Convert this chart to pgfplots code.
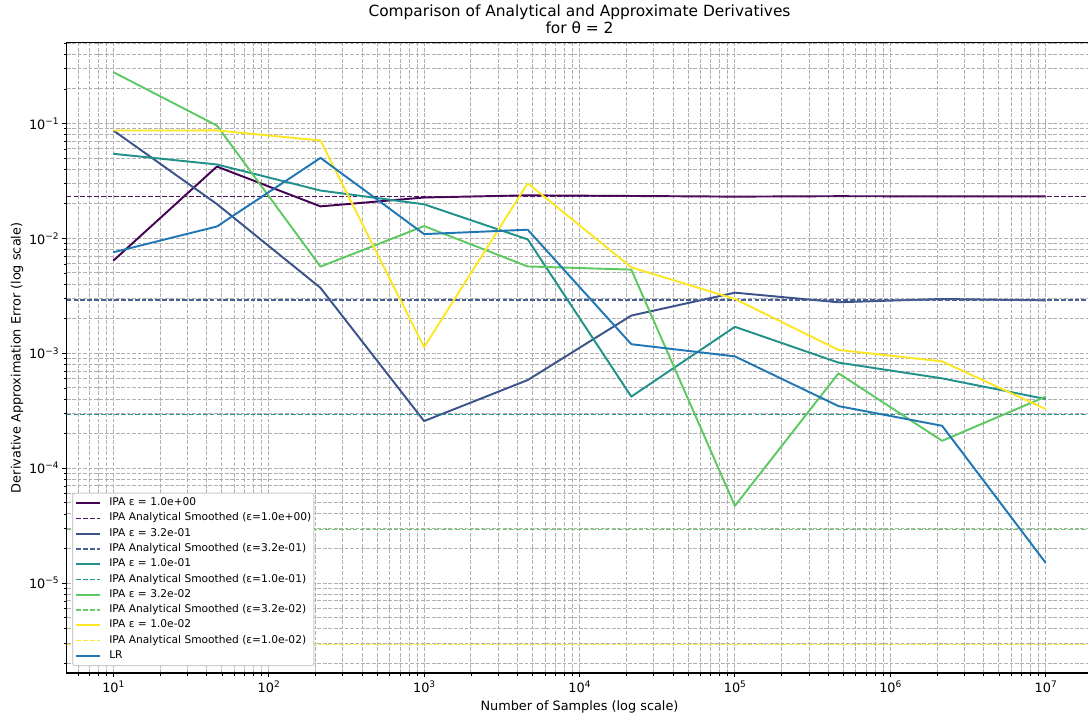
\documentclass[border=0pt]{standalone}
\usepackage{fontspec}
\setmainfont{DejaVu Sans}
\usepackage{pgfplots}
\pgfplotsset{compat=1.18}
\definecolor{viridisA}{RGB}{68,1,84}
\definecolor{viridisB}{RGB}{59,82,139}
\definecolor{viridisC}{RGB}{33,145,140}
\definecolor{viridisD}{RGB}{94,201,98}
\definecolor{viridisE}{RGB}{253,231,37}
\definecolor{tabblue}{RGB}{31,119,180}
\definecolor{smoothA}{RGB}{84,22,98}
\definecolor{smoothB}{RGB}{72,96,148}
\definecolor{smoothC}{RGB}{40,150,145}
\definecolor{smoothD}{RGB}{104,204,108}
\definecolor{smoothE}{RGB}{253,232,55}
\definecolor{gridgray}{RGB}{176,176,176}
\definecolor{legendframe}{RGB}{204,204,204}
\newcommand\sups[1]{\raisebox{4.8pt}{\fontsize{9}{10}\selectfont #1}}
\begin{document}
\begin{tikzpicture}
\begin{axis}[
  xmode=log, ymode=log,
  scale only axis, width=1025.6pt, height=630.3pt,
  xmin=5.012, xmax=1.995e7, ymin=1.65e-6, ymax=0.505,
  xtick={10,100,1000,10000,100000,1000000,10000000},
  xticklabels={10\sups{1},10\sups{2},10\sups{3},10\sups{4},10\sups{5},10\sups{6},10\sups{7}},
  minor xtick={6,7,8,9,20,30,40,50,60,70,80,90,200,300,400,500,600,700,800,900,2000,3000,4000,5000,6000,7000,8000,9000,20000,30000,40000,50000,60000,70000,80000,90000,200000,300000,400000,500000,600000,700000,800000,900000,2000000,3000000,4000000,5000000,6000000,7000000,8000000,9000000},
  ytick={1e-5,1e-4,1e-3,1e-2,1e-1},
  yticklabels={10\sups{−5},10\sups{−4},10\sups{−3},10\sups{−2},10\sups{−1}},
  minor ytick={2e-6,3e-6,4e-6,5e-6,6e-6,7e-6,8e-6,9e-6,2e-5,3e-5,4e-5,5e-5,6e-5,7e-5,8e-5,9e-5,2e-4,3e-4,4e-4,5e-4,6e-4,7e-4,8e-4,9e-4,2e-3,3e-3,4e-3,5e-3,6e-3,7e-3,8e-3,9e-3,2e-2,3e-2,4e-2,5e-2,6e-2,7e-2,8e-2,9e-2,0.2,0.3,0.4,0.5},
  tick align=outside, xtick pos=bottom, ytick pos=left,
  major tick length=4.5pt, minor tick length=2.6pt,
  every tick/.style={black, line width=1.03pt},
  every minor tick/.style={black, line width=0.77pt},
  grid=both,
  major grid style={gridgray, line width=1pt, dash pattern=on 3.8pt off 1.65pt},
  minor grid style={gridgray, line width=1pt, dash pattern=on 3.8pt off 1.65pt},
  axis line style={line width=1.03pt},
  tick label style={font=\fontsize{12.85}{15}\selectfont},
  xlabel={Number of Samples (log scale)},
  ylabel={Derivative Approximation Error (log scale)},
  label style={font=\fontsize{12.85}{15}\selectfont},
  xlabel style={at={(axis description cs:0.5,0)}, anchor=base, yshift=-37.7pt},
  ylabel style={at={(axis description cs:0,0.5)}, anchor=base, yshift=46pt},
  title={Comparison of Analytical and Approximate Derivatives\\for θ = 2},
  title style={font=\fontsize{15.4}{17.5}\selectfont, align=center, anchor=south, inner sep=0pt, at={(axis description cs:0.5,1)}, yshift=2.5pt},
  legend cell align=left,
  legend image code/.code={\draw[#1] (0pt,0pt) -- (24pt,0pt);},
  legend style={name=leg, at={(axis description cs:0.0058,0.0116)}, anchor=south west,
    draw=none, fill=white,
    font=\fontsize{10.65}{12}\selectfont, inner xsep=2.5pt, inner ysep=3.5pt,
    nodes={inner sep=0pt, text height=8.8pt, text depth=3.6pt},
    row sep=2.87pt, column sep=8pt},
  every axis plot/.append style={line join=round},
]
\addplot[draw=viridisA, line width=1.93pt] coordinates {(10,0.0064) (46.416,0.0422) (215.443,0.0190) (1000,0.0227) (4641.59,0.0237) (21544.3,0.0234) (100000,0.0231) (464159,0.0233) (2154435,0.0232) (10000000,0.0232)};
\addlegendentry{IPA ε = 1.0e+00}
\addplot[draw=smoothA, line width=1.3pt, dash pattern=on 4.75pt off 2.06pt] coordinates {(5.012,0.0231) (1.995e7,0.0231)};
\addlegendentry{IPA Analytical Smoothed (ε=1.0e+00)}
\addplot[draw=viridisB, line width=1.93pt] coordinates {(10,0.087) (46.416,0.0199) (215.443,0.00371) (1000,0.000257) (4641.59,0.000585) (21544.3,0.00213) (100000,0.00337) (464159,0.00278) (2154435,0.00297) (10000000,0.00289)};
\addlegendentry{IPA ε = 3.2e-01}
\addplot[draw=smoothB, line width=1.3pt, dash pattern=on 4.75pt off 2.06pt] coordinates {(5.012,0.00291) (1.995e7,0.00291)};
\addlegendentry{IPA Analytical Smoothed (ε=3.2e-01)}
\addplot[draw=viridisC, line width=1.93pt] coordinates {(10,0.0545) (46.416,0.044) (215.443,0.0261) (1000,0.0198) (4641.59,0.0098) (21544.3,0.00042) (100000,0.0017) (464159,0.00083) (2154435,0.000605) (10000000,0.0004)};
\addlegendentry{IPA ε = 1.0e-01}
\addplot[draw=smoothC, line width=1.3pt, dash pattern=on 4.75pt off 2.06pt] coordinates {(5.012,0.000295) (1.995e7,0.000295)};
\addlegendentry{IPA Analytical Smoothed (ε=1.0e-01)}
\addplot[draw=viridisD, line width=1.93pt] coordinates {(10,0.28) (46.416,0.096) (215.443,0.00568) (1000,0.0128) (4641.59,0.0057) (21544.3,0.00535) (100000,0.000047) (464159,0.00067) (2154435,0.000173) (10000000,0.00042)};
\addlegendentry{IPA ε = 3.2e-02}
\addplot[draw=smoothD, line width=1.3pt, dash pattern=on 4.75pt off 2.06pt] coordinates {(5.012,0.0000292) (1.995e7,0.0000292)};
\addlegendentry{IPA Analytical Smoothed (ε=3.2e-02)}
\addplot[draw=viridisE, line width=1.93pt] coordinates {(10,0.0869) (46.416,0.087) (215.443,0.0711) (1000,0.00113) (4641.59,0.0302) (21544.3,0.0056) (100000,0.00297) (464159,0.00107) (2154435,0.00085) (10000000,0.000327)};
\addlegendentry{IPA ε = 1.0e-02}
\addplot[draw=smoothE, line width=1.3pt, dash pattern=on 4.75pt off 2.06pt] coordinates {(5.012,0.00000291) (1.995e7,0.00000291)};
\addlegendentry{IPA Analytical Smoothed (ε=1.0e-02)}
\addplot[draw=tabblue, line width=1.93pt] coordinates {(10,0.00757) (46.416,0.0127) (215.443,0.0502) (1000,0.0109) (4641.59,0.0119) (21544.3,0.0012) (100000,0.00094) (464159,0.000347) (2154435,0.000234) (10000000,0.000015)};
\addlegendentry{LR}
\coordinate (SW) at (rel axis cs:0,0);
\end{axis}
\draw[legendframe, line width=1pt, rounded corners=2.5pt] (leg.south west) rectangle (leg.north east);
\pgfresetboundingbox
\path[use as bounding box] ([shift={(-66.7pt,-44pt)}]SW) rectangle ([shift={(1021.3pt,673pt)}]SW);
\end{tikzpicture}
\end{document}
